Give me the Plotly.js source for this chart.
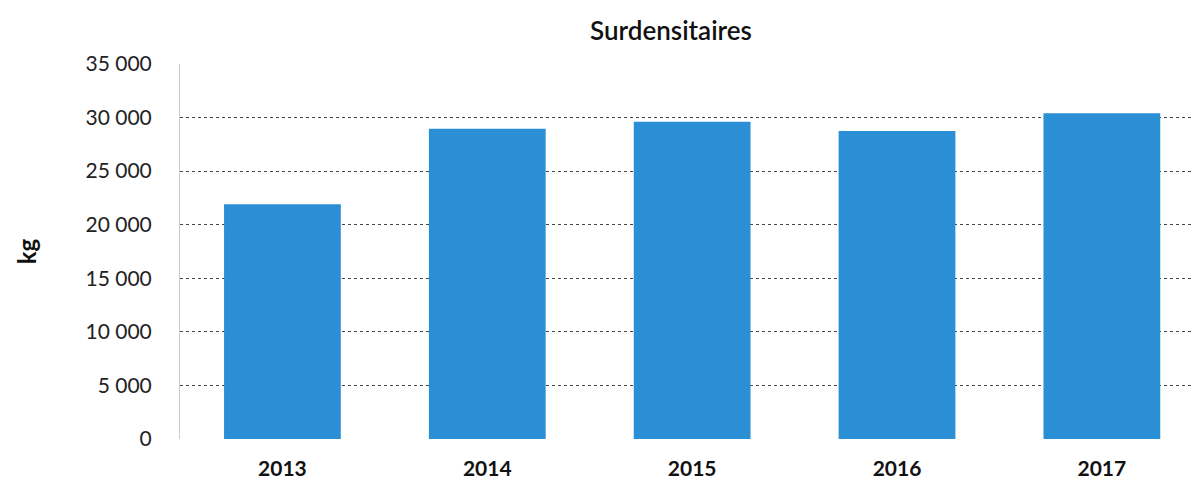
<!DOCTYPE html>
<html>
<head>
<meta charset="utf-8">
<script src="https://cdn.plot.ly/plotly-3.0.1.min.js"></script>
<style>html,body{margin:0;padding:0;background:#fff;}#chart{width:1192px;height:484px;}</style>
</head>
<body>
<div id="chart"></div>
<script>
const years = ['2013', '2014', '2015', '2016', '2017'];
const tonnage = [21900, 28950, 29600, 28750, 30400];
const tickValues = [0, 5000, 10000, 15000, 20000, 25000, 30000, 35000];
const tickLabels = ['0', '5 000', '10 000', '15 000', '20 000', '25 000', '30 000', '35 000'];

const trace = {
  type: 'bar',
  x: years,
  y: tonnage,
  marker: {color: '#2b8fd5', line: {width: 0}},
  hoverinfo: 'x+y'
};

const layout = {
  width: 1192,
  height: 484,
  margin: {l: 180, r: 0, t: 64, b: 45},
  paper_bgcolor: '#ffffff',
  plot_bgcolor: '#ffffff',
  font: {family: 'Lato, "Open Sans", sans-serif', color: '#222'},
  bargap: 0.43,
  showlegend: false,
  title: {
    text: 'Surdensitaires',
    font: {size: 26, color: '#111', family: 'Lato, "Open Sans", sans-serif', weight: 600},
    x: 671 / 1192, xanchor: 'center', xref: 'container',
    y: 1 - 31 / 484, yanchor: 'middle', yref: 'container'
  },
  xaxis: {
    type: 'category',
    range: [-0.5, 4.44],
    showgrid: false,
    zeroline: false,
    showline: false,
    ticks: '',
    ticklabelstandoff: 15,
    tickfont: {size: 21, color: '#111', family: 'Lato, "Open Sans", sans-serif', weight: 700}
  },
  yaxis: {
    range: [0, 35000],
    tickvals: tickValues,
    ticktext: tickLabels,
    showgrid: true,
    gridcolor: '#444',
    gridwidth: 1,
    griddash: 'dot',
    zeroline: false,
    showline: true,
    linecolor: '#ccc',
    linewidth: 1,
    ticks: '',
    ticklabelstandoff: 23,
    tickfont: {size: 21, color: '#222', family: 'Lato, "Open Sans", sans-serif'},
    title: {
      text: 'kg',
      standoff: 42,
      font: {size: 24, color: '#111', family: 'Lato, "Open Sans", sans-serif', weight: 700}
    },
    automargin: false
  }
};

Plotly.newPlot('chart', [trace], layout, {displayModeBar: false, staticPlot: true});
</script>
</body>
</html>
